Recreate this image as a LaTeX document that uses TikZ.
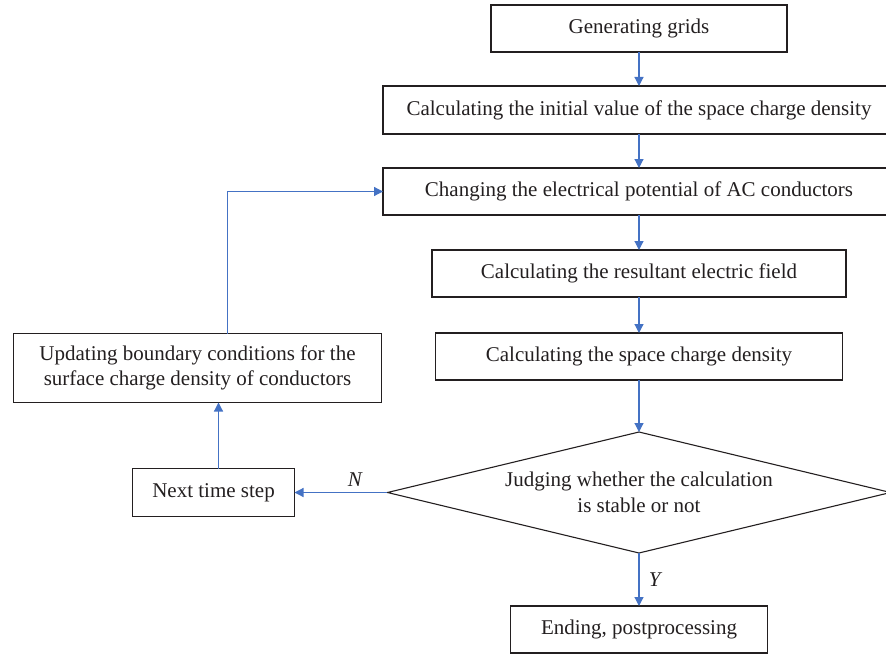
\documentclass[tikz,border=0pt]{standalone}
\usepackage{fontspec}
\setmainfont{Liberation Serif}
\usetikzlibrary{positioning,shapes.geometric,arrows.meta}
\definecolor{lineblue}{HTML}{4472C4}
\definecolor{inkgray}{HTML}{231F20}

\begin{document}
\begin{tikzpicture}[x=1pt,y=-1pt,
  box/.style={draw=inkgray, line width=1.1pt, text=inkgray, inner sep=0pt, outer sep=0pt, minimum height=47pt, align=center, font=\fontsize{21}{25.5}\selectfont},
  arr/.style={draw=lineblue, line width=1.2pt, -{Triangle[length=9pt,width=9pt]}},
  lbl/.style={text=inkgray, font=\fontsize{21}{25.5}\selectfont\itshape}]
\clip (0,0) rectangle (886,658);
\useasboundingbox (0,0) rectangle (886,658);
%the boxes down the middle
\node[box, minimum width=296pt] (grid) at (639,28.5) {Generating grids};
\node[box, minimum width=512pt, minimum height=48pt, below=34pt of grid] (init) {Calculating the initial value of the space charge density};
\node[box, minimum width=512pt, below=34pt of init] (chg) {Changing the electrical potential of AC conductors};
\node[box, minimum width=414pt, below=35pt of chg] (field) {Calculating the resultant electric field};
\node[box, minimum width=407pt, below=36pt of field] (dens) {Calculating the space charge density};
\node[box, diamond, aspect=4.16, minimum width=503pt, minimum height=121pt, below=52pt of dens] (judge) {Judging whether the calculation\\is stable or not};
\node[box, minimum width=257pt, below=53pt of judge] (end) {Ending, postprocessing};
%the loop on the left
\node[box, minimum width=162pt, minimum height=48pt, left=93pt of judge] (next) {Next time step};
\node[box, minimum width=368pt, minimum height=69pt, above=66pt of next, xshift=-16pt] (upd) {Updating boundary conditions for the\\surface charge density of conductors};
%arrows
\draw[arr] (grid) -- (init);
\draw[arr] (init) -- (chg);
\draw[arr] (chg) -- (field);
\draw[arr] (field) -- (dens);
\draw[arr] (dens) -- (judge);
\draw[arr] (judge) -- node[lbl, right=6pt] {Y} (end);
\draw[arr] (judge) -- node[lbl, above=2pt, xshift=14pt] {N} (next);
\draw[arr] ([xshift=5pt]next.north) -- ([xshift=5pt]next.north |- upd.south);
\draw[arr] ([xshift=30pt]upd.north) |- (chg.west);
\end{tikzpicture}
\end{document}
